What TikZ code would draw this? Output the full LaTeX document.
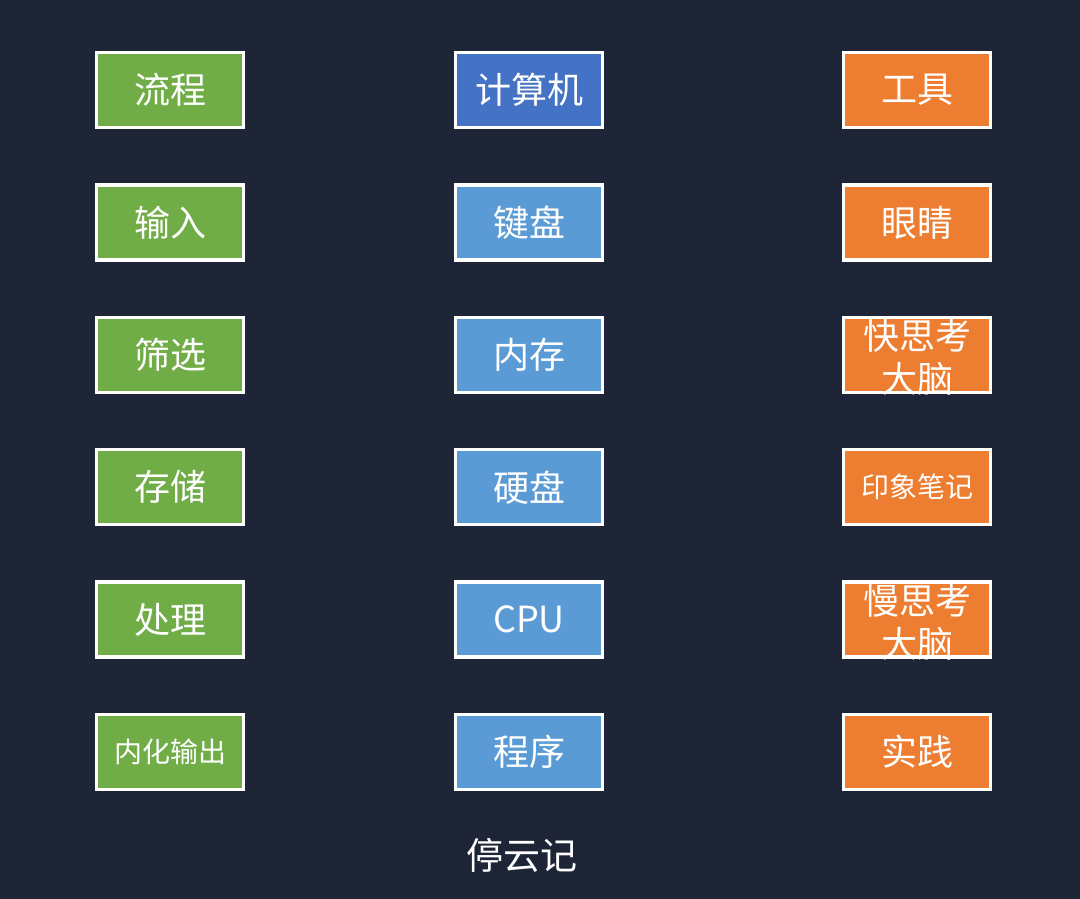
\documentclass[tikz,border=0pt]{standalone}
\usepackage{fontspec}
\usepackage{xcolor}
\usepackage{tikz}
\usetikzlibrary{positioning}

\newfontfamily\cjk{Noto Sans CJK SC}
\definecolor{navy}{HTML}{1D2537}
\definecolor{flowgreen}{HTML}{70AD47}
\definecolor{pcblue}{HTML}{4472C4}
\definecolor{partblue}{HTML}{5B9BD5}
\definecolor{toolorange}{HTML}{ED7D31}

\begin{document}
\begin{tikzpicture}[x=1pt,y=-1pt,node distance=132.4pt,
    box/.style={draw=white,line width=3.5pt,minimum width=147pt,minimum height=75pt,
        inner sep=0pt,text=white,font=\cjk\fontsize{36}{40}\selectfont},
    flow/.style={box,fill=flowgreen},
    pc/.style={box,fill=pcblue},
    part/.style={box,fill=partblue},
    tool/.style={box,fill=toolorange},
    small/.style={font=\cjk\fontsize{28}{32}\selectfont},
    twoline/.style={text=white,align=center,inner sep=0pt,yshift=-3pt,
        font=\cjk\fontsize{36}{43}\selectfont}]

    \fill[navy] (0,0) rectangle (1080,899);

    % left column
    \node[flow] (flow) at (170,90) {流程};
    \node[flow] (input) [below of=flow] {输入};
    \node[flow] (filter) [below of=input] {筛选};
    \node[flow] (store) [below of=filter] {存储};
    \node[flow] (process) [below of=store] {处理};
    \node[flow,small] (output) [below of=process] {内化输出};

    % middle column
    \node[pc] (computer) at (529,90) {计算机};
    \node[part] (keyboard) [below of=computer] {键盘};
    \node[part] (memory) [below of=keyboard] {内存};
    \node[part] (disk) [below of=memory] {硬盘};
    \node[part] (cpu) [below of=disk] {CPU};
    \node[part] (program) [below of=cpu] {程序};

    % right column
    \node[tool] (tools) at (917,90) {工具};
    \node[tool] (eyes) [below of=tools] {眼睛};
    \node[tool,label={[twoline]center:{快思考\\大脑}}] (fast) [below of=eyes] {};
    \node[tool,small] (notes) [below of=fast] {印象笔记};
    \node[tool,label={[twoline]center:{慢思考\\大脑}}] (slow) [below of=notes] {};
    \node[tool] (practice) [below of=slow] {实践};

    \node[text=white,font=\cjk\fontsize{37}{40}\selectfont] (title) at (522,855) {停云记};
\end{tikzpicture}
\end{document}
